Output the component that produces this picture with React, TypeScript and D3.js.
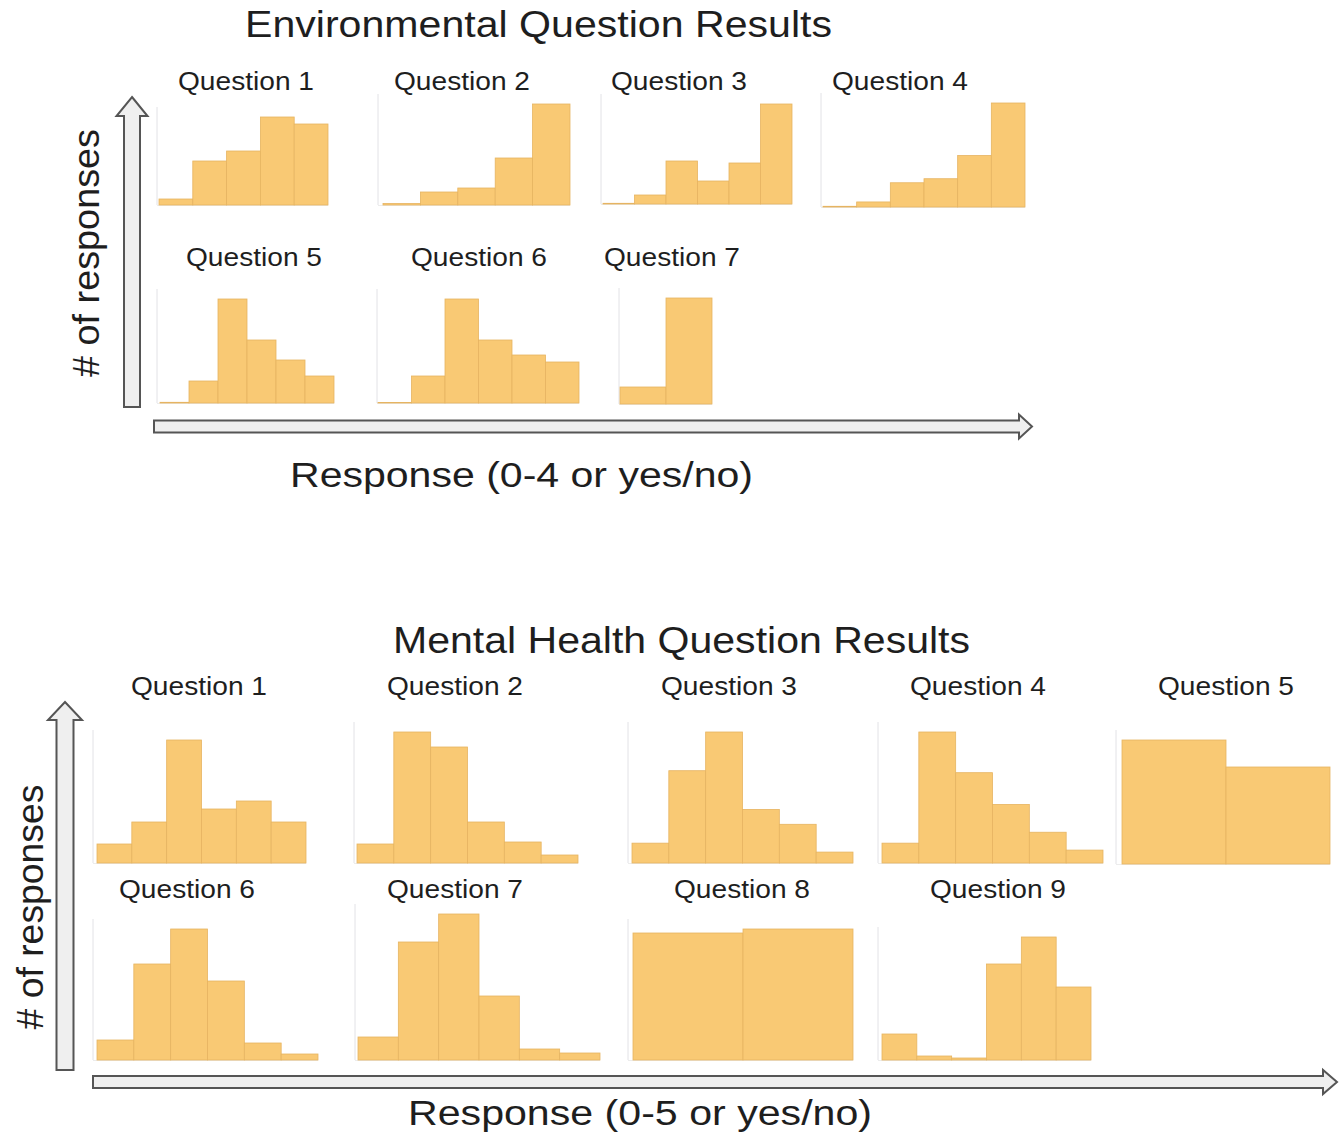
import React from "react";
import * as d3 from "d3";

// ---------- data (relative response counts) ----------
const envTitle = "Environmental Question Results";
const envXLabel = "Response (0-4 or yes/no)";
const mentalTitle = "Mental Health Question Results";
const mentalXLabel = "Response (0-5 or yes/no)";
const yLabel = "# of responses";

const envQuestions = ["Question 1", "Question 2", "Question 3", "Question 4", "Question 5", "Question 6", "Question 7"];
const envQ1 = [6, 44, 54, 88, 81];
const envQ2 = [1.5, 13, 17, 47, 101];
const envQ3 = [0.7, 9, 43, 23, 41, 100];
const envQ4 = [0.7, 5, 24, 28, 51, 103];
const envQ5 = [0.7, 22, 104, 63, 43, 27];
const envQ6 = [0.5, 27, 104, 63, 48, 41];
const envQ7 = [17, 106];

const mentalQuestions = ["Question 1", "Question 2", "Question 3", "Question 4", "Question 5", "Question 6", "Question 7", "Question 8", "Question 9"];
const mentalQ1 = [19, 41, 123, 54, 62, 41];
const mentalQ2 = [19, 131, 116, 41, 21, 8];
const mentalQ3 = [20, 93, 132, 54, 39, 11];
const mentalQ4 = [20, 132, 91, 59, 31, 13];
const mentalQ5 = [124, 97];
const mentalQ6 = [20, 96, 131, 79, 17, 6];
const mentalQ7 = [23, 118, 146, 64, 11, 7];
const mentalQ8 = [127, 131];
const mentalQ9 = [26, 4, 2, 96, 123, 73];

// ---------- layout ----------
type Layout = { x0: number; x1: number; base: number; top: number; ax: number; tx: number; ty: number };
const envLayout: Layout[] = [
  { x0: 159, x1: 328, base: 205, top: 117, ax: 157, tx: 246, ty: 81 },
  { x0: 383, x1: 570, base: 205, top: 104, ax: 378, tx: 462, ty: 81 },
  { x0: 603, x1: 792, base: 204, top: 104, ax: 601, tx: 679, ty: 81 },
  { x0: 823, x1: 1025, base: 207, top: 103, ax: 821, tx: 900, ty: 81 },
  { x0: 160, x1: 334, base: 403, top: 299, ax: 157, tx: 254, ty: 257 },
  { x0: 378, x1: 579, base: 403, top: 299, ax: 377, tx: 479, ty: 257 },
  { x0: 620, x1: 712, base: 404, top: 298, ax: 619, tx: 672, ty: 257 },
];
const mentalLayout: Layout[] = [
  { x0: 97, x1: 306, base: 863, top: 740, ax: 93, tx: 199, ty: 686 },
  { x0: 357, x1: 578, base: 863, top: 732, ax: 354, tx: 455, ty: 686 },
  { x0: 632, x1: 853, base: 863, top: 732, ax: 628, tx: 729, ty: 686 },
  { x0: 882, x1: 1103, base: 863, top: 732, ax: 878, tx: 978, ty: 686 },
  { x0: 1122, x1: 1330, base: 864, top: 740, ax: 1116, tx: 1226, ty: 686 },
  { x0: 97, x1: 318, base: 1060, top: 929, ax: 93, tx: 187, ty: 889 },
  { x0: 358, x1: 600, base: 1060, top: 914, ax: 355, tx: 455, ty: 889 },
  { x0: 633, x1: 853, base: 1060, top: 929, ax: 628, tx: 742, ty: 889 },
  { x0: 882, x1: 1091, base: 1060, top: 937, ax: 878, tx: 998, ty: 889 },
];

const FONT = "'Liberation Sans', Arial, Helvetica, sans-serif";
const FILL = "#F9C974";
const EDGE = "#E6B461";
const TEXT = "#1e1e1e";

function Histogram({ values, layout, title }: { values: number[]; layout: Layout; title: string }) {
  const x = d3.scaleBand<number>().domain(d3.range(values.length)).range([layout.x0, layout.x1]).padding(0);
  const y = d3.scaleLinear().domain([0, d3.max(values) as number]).range([layout.base, layout.top]);
  return (
    <g>
      <text x={layout.tx} y={layout.ty} textAnchor="middle" dominantBaseline="central" fontFamily={FONT} fontSize={25} textLength={136} lengthAdjust="spacingAndGlyphs" fill={TEXT}>
        {title}
      </text>
      <line x1={layout.ax} x2={layout.ax} y1={layout.top - 10} y2={layout.base} stroke="#e2e2e6" strokeWidth={1} />
      <line x1={layout.ax} x2={layout.x1} y1={layout.base + 0.5} y2={layout.base + 0.5} stroke="#ececec" strokeWidth={1} />
      {values.map((v, i) => (
        <rect
          key={i}
          x={x(i)}
          y={y(v)}
          width={x.bandwidth()}
          height={layout.base - y(v)}
          fill={FILL}
          stroke={EDGE}
          strokeWidth={0.8}
        />
      ))}
    </g>
  );
}

function VArrow({ cx, tip, bottom, shaftW, headW, headL }: { cx: number; tip: number; bottom: number; shaftW: number; headW: number; headL: number }) {
  const p = d3.path();
  p.moveTo(cx, tip);
  p.lineTo(cx + headW / 2, tip + headL);
  p.lineTo(cx + shaftW / 2, tip + headL);
  p.lineTo(cx + shaftW / 2, bottom);
  p.lineTo(cx - shaftW / 2, bottom);
  p.lineTo(cx - shaftW / 2, tip + headL);
  p.lineTo(cx - headW / 2, tip + headL);
  p.closePath();
  return <path d={p.toString()} fill="#efefef" stroke="#555" strokeWidth={2} strokeLinejoin="miter" />;
}

function HArrow({ cy, left, tip, shaftH, headH, headL }: { cy: number; left: number; tip: number; shaftH: number; headH: number; headL: number }) {
  const p = d3.path();
  p.moveTo(tip, cy);
  p.lineTo(tip - headL, cy - headH / 2);
  p.lineTo(tip - headL, cy - shaftH / 2);
  p.lineTo(left, cy - shaftH / 2);
  p.lineTo(left, cy + shaftH / 2);
  p.lineTo(tip - headL, cy + shaftH / 2);
  p.lineTo(tip - headL, cy + headH / 2);
  p.closePath();
  return <path d={p.toString()} fill="#efefef" stroke="#555" strokeWidth={2} strokeLinejoin="miter" />;
}

export default function App() {
  const envData = [envQ1, envQ2, envQ3, envQ4, envQ5, envQ6, envQ7];
  const mentalData = [mentalQ1, mentalQ2, mentalQ3, mentalQ4, mentalQ5, mentalQ6, mentalQ7, mentalQ8, mentalQ9];
  return (
    <svg width={1340} height={1134} style={{ position: "absolute", left: 0, top: 0, background: "#fff" }}>
      <rect x={0} y={0} width={1340} height={1134} fill="#fff" />
      {/* ---- Environmental ---- */}
      <text x={538.5} y={24} textAnchor="middle" dominantBaseline="central" fontFamily={FONT} fontSize={37} textLength={587} lengthAdjust="spacingAndGlyphs" fill={TEXT}>
        {envTitle}
      </text>
      <VArrow cx={132} tip={97} bottom={407} shaftW={16} headW={31} headL={19} />
      <HArrow cy={426.5} left={154} tip={1032} shaftH={12} headH={24} headL={13} />
      <text transform="translate(86,253) rotate(-90)" textAnchor="middle" dominantBaseline="central" fontFamily={FONT} fontSize={36} textLength={248} lengthAdjust="spacingAndGlyphs" fill={TEXT}>
        {yLabel}
      </text>
      <text x={521.5} y={474} textAnchor="middle" dominantBaseline="central" fontFamily={FONT} fontSize={35} textLength={463} lengthAdjust="spacingAndGlyphs" fill={TEXT}>
        {envXLabel}
      </text>
      {envData.map((vals, i) => (
        <Histogram key={"e" + i} values={vals} layout={envLayout[i]} title={envQuestions[i]} />
      ))}

      {/* ---- Mental Health ---- */}
      <text x={681.5} y={640} textAnchor="middle" dominantBaseline="central" fontFamily={FONT} fontSize={37} textLength={577} lengthAdjust="spacingAndGlyphs" fill={TEXT}>
        {mentalTitle}
      </text>
      <VArrow cx={65} tip={702} bottom={1070} shaftW={17} headW={34} headL={18} />
      <HArrow cy={1082} left={93} tip={1337} shaftH={12} headH={24} headL={14} />
      <text transform="translate(30,907) rotate(-90)" textAnchor="middle" dominantBaseline="central" fontFamily={FONT} fontSize={36} textLength={245} lengthAdjust="spacingAndGlyphs" fill={TEXT}>
        {yLabel}
      </text>
      <text x={640} y={1112} textAnchor="middle" dominantBaseline="central" fontFamily={FONT} fontSize={35} textLength={464} lengthAdjust="spacingAndGlyphs" fill={TEXT}>
        {mentalXLabel}
      </text>
      {mentalData.map((vals, i) => (
        <Histogram key={"m" + i} values={vals} layout={mentalLayout[i]} title={mentalQuestions[i]} />
      ))}
    </svg>
  );
}
